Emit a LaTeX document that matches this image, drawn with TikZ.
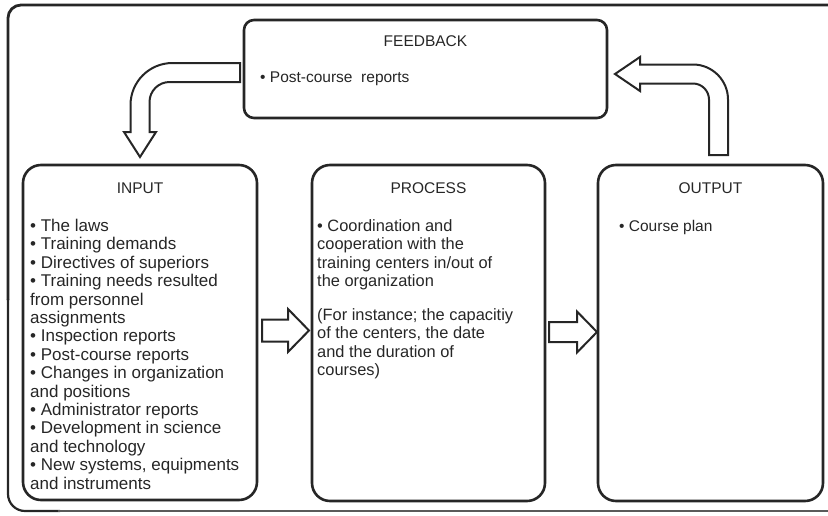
\documentclass[tikz,border=0pt]{standalone}
\usepackage{fontspec}
\setmainfont{Liberation Sans}
\usetikzlibrary{calc}
\definecolor{ink}{HTML}{262626}
\definecolor{rim}{HTML}{5A5A5A}
\begin{document}
\begin{tikzpicture}[x=1pt,y=-1pt,
  panel/.style={draw=ink, line width=2.6pt, rounded corners=18pt, inner sep=0pt, outer sep=0pt},
  title/.style={anchor=base, inner sep=0pt, font=\fontsize{15.5}{18}\selectfont, text=ink},
  body/.style={anchor=north west, inner sep=0pt, align=left, font=\fontsize{15.5}{18}\selectfont, text=ink},
  blockarrow/.style={draw=ink, line width=2pt, fill=white, line join=miter},
]
\useasboundingbox (0,0) rectangle (828,515);

% outer frame (open on the right)
\draw[ink, line width=2.8pt, rounded corners=13pt] (840,5) -- (8,5) -- (8,300);
\draw[ink, line width=2.2pt, rounded corners=17pt] (8,299) -- (8,511) -- (60,511);
\draw[rim, line width=1.6pt] (58,511) -- (840,511);

% panels
\node[panel, rounded corners=10pt, minimum width=363, minimum height=98, anchor=north west] (fb) at (244,20) {};
\node[panel, minimum width=234, minimum height=335, anchor=north west] (in) at (23,165) {};
\node[panel, minimum width=233, minimum height=336, anchor=north west] (pr) at (312,165) {};
\node[panel, minimum width=225, minimum height=336, anchor=north west] (out) at (598,165) {};

% titles
\node[title] (fbt) at (fb.north |- 0,46) {FEEDBACK};
\node[title] (int) at (in.north |- 0,193) {INPUT};
\node[title] (prt) at (pr.north |- 0,193) {PROCESS};
\node[title] (outt) at (out.north |- 0,193) {OUTPUT};

% contents
\node[body] (fbb) at (260,72) {• Post-course\ \ reports};
\node[body, font=\fontsize{17}{18.4}\selectfont] (inb) at (30,219) {• The laws\\
• Training demands\\
• Directives of superiors\\
• Training needs resulted\\
from personnel\\
assignments\\
• Inspection reports\\
• Post-course reports\\
• Changes in organization\\
and positions\\
• Administrator reports\\
• Development in science\\
and technology\\
• New systems, equipments\\
and instruments};
\node[body, font=\fontsize{16.4}{18.5}\selectfont] (prb) at (317,219) {• Coordination and\\
cooperation with the\\
training centers in/out of\\
the organization};
\node[body, font=\fontsize{16.4}{18.5}\selectfont] (prc) at (317,308) {(For instance; the capacitiy\\
of the centers, the date\\
and the duration of\\
courses)};
\node[body] (outb) at (619,220) {• Course plan};

% straight block arrows
\draw[blockarrow] let \p1=($(in.east)+(5,-2)$), \p2=($(pr.west)+(-3,-2)$) in
  (\x1,\y1+11pt) -- (\x2-21pt,\y1+11pt) -- (\x2-21pt,\y1+21.5pt) -- (\x2,\y1)
  -- (\x2-21pt,\y1-21.5pt) -- (\x2-21pt,\y1-11pt) -- (\x1,\y1-11pt) -- cycle;
\draw[blockarrow] let \p1=($(pr.east)+(4,-1)$), \p2=($(out.west)+(-1,-1)$) in
  (\x1,\y1+10pt) -- (\x2-20pt,\y1+10pt) -- (\x2-20pt,\y1+20.5pt) -- (\x2,\y1)
  -- (\x2-20pt,\y1-20.5pt) -- (\x2-20pt,\y1-10pt) -- (\x1,\y1-10pt) -- cycle;

% bent arrow: feedback down to input
\draw[blockarrow] let \p1=($(fb.west)+(-4,0)$), \p2=($(in.north)+(0,-8)$) in
  (\x1,\y1+6pt) -- (\x2+32.5pt,\y1+6pt)
  .. controls (\x2+9.3pt,\y1+6pt) and (\x2-9.5pt,\y1-12.8pt) .. (\x2-9.5pt,\y1-36pt)
  -- (\x2-9.5pt,\y2+25pt) -- (\x2-16pt,\y2+25pt) -- (\x2,\y2) -- (\x2+16pt,\y2+25pt)
  -- (\x2+9.5pt,\y2+25pt) -- (\x2+9.5pt,\y1-33pt)
  .. controls (\x2+9.5pt,\y1-22pt) and (\x2+18.5pt,\y1-13pt) .. (\x2+29.5pt,\y1-13pt)
  -- (\x1,\y1-13pt) -- cycle;

% bent arrow: output up to feedback
\draw[blockarrow] let \p1=($(fb.east)+(8,5)$), \p2=($(out.north)+(8,-10)$) in
  (\x1,\y1) -- (\x1+25pt,\y1+17pt) -- (\x1+25pt,\y1+9.5pt) -- (\x2-25.5pt,\y1+9.5pt)
  .. controls (\x2-6.2pt,\y1+9.5pt) and (\x2+9.5pt,\y1-6.2pt) .. (\x2+9.5pt,\y1-25.5pt)
  -- (\x2+9.5pt,\y2) -- (\x2-9.5pt,\y2) -- (\x2-9.5pt,\y1-25.5pt)
  .. controls (\x2-9.5pt,\y1-16.7pt) and (\x2-16.7pt,\y1-9.5pt) .. (\x2-25.5pt,\y1-9.5pt)
  -- (\x1+25pt,\y1-9.5pt) -- (\x1+25pt,\y1-17pt) -- cycle;
\end{tikzpicture}
\end{document}
